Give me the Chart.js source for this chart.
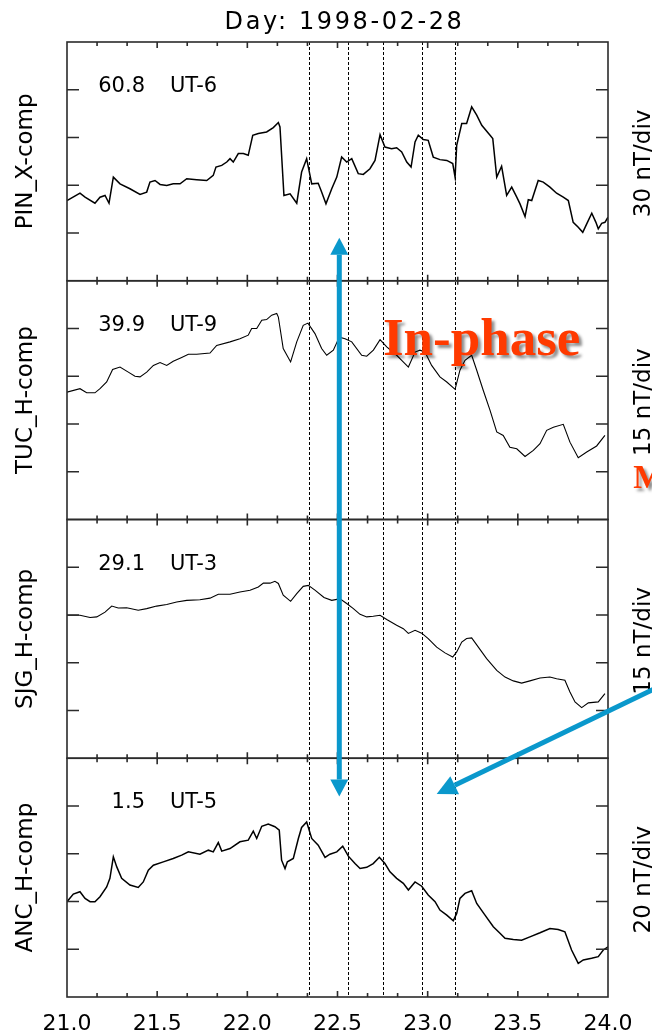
<!DOCTYPE html>
<html>
<head>
<meta charset="utf-8">
<title>Day: 1998-02-28</title>
<script src="https://cdn.jsdelivr.net/npm/chart.js@4.4.1/dist/chart.umd.min.js"></script>
<style>
  html, body { margin: 0; padding: 0; background: #fff; }
  #wrap { position: relative; width: 652px; height: 1035px; }
</style>
</head>
<body>
<div id="wrap"><canvas id="magChart" width="652" height="1035"></canvas></div>
<script>
// UT hours and field values (nT above panel floor) for each station
const hoursPin = [21.000,21.072,21.100,21.155,21.183,21.211,21.233,21.257,21.294,21.349,
  21.405,21.442,21.460,21.488,21.516,21.553,21.589,21.627,21.664,21.719,
  21.775,21.811,21.826,21.858,21.886,21.904,21.922,21.950,21.978,22.005,
  22.030,22.061,22.107,22.144,22.172,22.181,22.203,22.237,22.274,22.301,
  22.329,22.357,22.393,22.412,22.436,22.468,22.496,22.523,22.551,22.579,
  22.615,22.643,22.680,22.708,22.736,22.763,22.800,22.828,22.856,22.884,
  22.908,22.930,22.948,22.976,23.003,23.031,23.068,23.106,23.139,23.152,
  23.161,23.189,23.216,23.244,23.272,23.300,23.346,23.361,23.383,23.410,
  23.438,23.466,23.494,23.512,23.540,23.558,23.577,23.613,23.641,23.678,
  23.715,23.752,23.780,23.807,23.835,23.860,23.882,23.910,23.933,23.946,
  23.965,23.983,24.000];
const pinX = [50.4,55.0,52.5,48.7,52.5,53.6,48.7,65.1,60.9,57.8,
  54.2,55.7,62.0,63.0,60.5,59.9,60.9,60.9,64.1,63.5,
  63.0,66.2,71.4,72.5,74.6,76.7,74.6,79.9,79.9,78.8,
  91.4,92.5,93.5,96.2,99.4,96.6,53.6,54.6,48.7,68.3,
  76.7,60.9,61.3,55.7,48.3,57.8,65.1,77.7,74.6,76.7,
  67.3,66.8,70.4,75.6,91.8,84.0,83.0,83.6,80.9,74.6,
  71.4,87.2,91.4,88.7,88.2,77.7,76.1,75.6,73.6,65.1,
  85.1,98.8,98.8,109.2,104.0,97.7,91.4,89.3,65.1,71.9,
  53.6,58.8,52.5,48.3,40.3,50.9,50.4,63.0,62.0,58.8,
  55.0,52.5,50.4,36.7,33.6,30.4,35.7,42.4,36.7,32.6,
  36.1,36.7,39.9];

const hoursTuc = [21.000,21.072,21.109,21.155,21.183,21.220,21.253,21.294,21.340,21.377,
  21.405,21.442,21.479,21.516,21.553,21.589,21.636,21.673,21.719,21.793,
  21.830,21.904,21.959,22.005,22.024,22.052,22.080,22.107,22.135,22.163,
  22.172,22.199,22.240,22.274,22.310,22.336,22.375,22.412,22.440,22.477,
  22.510,22.542,22.579,22.634,22.662,22.699,22.736,22.773,22.828,22.856,
  22.893,22.930,22.957,22.985,23.022,23.068,23.106,23.152,23.179,23.207,
  23.244,23.272,23.308,23.346,23.383,23.419,23.456,23.494,23.540,23.586,
  23.623,23.660,23.697,23.752,23.789,23.835,23.882,23.937,23.983];
const tucH = [40.0,41.1,39.8,39.8,41.1,43.2,47.1,47.9,46.3,45.0,
  44.8,46.3,48.4,49.3,48.4,49.7,50.9,51.9,51.9,52.3,
  54.7,55.8,56.8,57.9,60.0,60.0,62.6,62.8,64.2,64.7,
  63.6,53.7,49.5,55.8,61.0,61.7,58.4,53.7,51.6,53.2,
  57.3,56.8,55.8,51.6,51.3,53.2,56.5,54.2,51.6,50.0,
  47.9,52.6,53.2,52.6,48.4,44.8,43.2,40.9,46.9,50.0,
  51.6,46.9,40.6,34.3,27.5,26.4,22.7,22.2,19.8,21.7,
  23.8,28.0,29.0,29.9,24.3,19.4,21.2,23.1,26.4];

const hoursSjg = [21.000,21.072,21.128,21.165,21.211,21.248,21.284,21.331,21.395,21.442,
  21.497,21.553,21.608,21.664,21.737,21.793,21.839,21.904,21.959,22.015,
  22.061,22.089,22.126,22.153,22.172,22.199,22.240,22.274,22.310,22.338,
  22.375,22.425,22.468,22.496,22.514,22.551,22.588,22.625,22.662,22.698,
  22.736,22.773,22.828,22.865,22.893,22.930,22.967,23.003,23.050,23.096,
  23.139,23.161,23.189,23.216,23.244,23.281,23.327,23.383,23.429,23.475,
  23.521,23.567,23.623,23.678,23.715,23.761,23.789,23.817,23.854,23.891,
  23.946,23.983];
const sjgH = [44.9,44.9,44.2,44.4,45.9,47.8,47.2,47.3,46.5,47.0,
  47.8,48.3,49.1,49.6,49.8,50.3,51.5,51.5,52.2,52.8,
  53.8,55.0,55.0,55.6,54.9,51.2,49.3,51.7,54.0,54.3,
  52.8,50.5,49.6,49.9,50.1,48.6,47.0,45.2,44.4,44.6,
  44.9,43.6,41.8,40.7,39.2,40.2,39.3,37.6,34.9,33.1,
  31.8,33.4,36.5,37.6,37.8,34.9,31.3,27.6,25.5,24.3,
  23.6,24.3,25.2,25.5,25.0,24.5,20.8,17.7,15.9,17.4,
  17.7,20.3];

const hoursAnc = [21.000,21.035,21.072,21.100,21.128,21.155,21.183,21.220,21.238,21.257,
  21.276,21.303,21.349,21.395,21.423,21.451,21.479,21.534,21.589,21.636,
  21.673,21.737,21.784,21.811,21.839,21.858,21.904,21.959,22.005,22.033,
  22.052,22.080,22.116,22.153,22.177,22.190,22.209,22.222,22.255,22.283,
  22.301,22.329,22.357,22.393,22.431,22.458,22.496,22.529,22.560,22.597,
  22.625,22.662,22.698,22.732,22.763,22.791,22.828,22.865,22.893,22.930,
  22.967,23.003,23.041,23.068,23.106,23.142,23.161,23.179,23.207,23.244,
  23.272,23.318,23.364,23.401,23.429,23.475,23.521,23.567,23.623,23.678,
  23.724,23.761,23.798,23.835,23.863,23.909,23.946,23.974,24.000];
const ancH = [39.9,43.1,44.1,41.3,39.9,39.9,42.0,46.1,49.7,58.7,
  54.5,49.7,46.9,45.9,48.2,53.1,55.2,56.6,58.0,59.4,
  60.8,59.8,61.5,60.8,64.7,61.1,62.2,65.0,65.7,69.5,
  66.4,71.5,72.4,71.3,69.9,57.3,53.8,56.6,58.0,66.4,
  71.0,73.3,66.4,63.6,58.5,59.8,60.8,63.2,59.0,55.9,
  53.8,54.3,55.9,58.5,55.9,52.4,49.7,47.6,44.8,48.2,
  46.4,42.7,39.9,36.4,34.3,31.9,35.0,41.3,43.4,44.5,
  39.2,34.3,29.4,26.7,24.6,24.1,23.8,25.2,26.9,28.7,
  28.3,27.3,19.7,14.1,15.5,16.2,16.9,19.7,21.0];

// panel order top to bottom
const panelIds = ['pin', 'tuc', 'sjg', 'anc'];
const panelLabels = ['PIN_X-comp', 'TUC_H-comp', 'SJG_H-comp', 'ANC_H-comp'];
const nTperDiv = [30, 15, 15, 20];
const baseLevels = ['60.8', '39.9', '29.1', '1.5'];
const utOffsets = ['UT-6', 'UT-9', 'UT-3', 'UT-5'];
const divisions = 5;

const xTickLabels = ['21.0', '21.5', '22.0', '22.5', '23.0', '23.5', '24.0'];
const minorStep = 1 / 6;   // 10 min
const markerHours = [22.34, 22.56, 22.75, 22.97, 23.15];

// annotation anchors in (hour, panel, nT)
const phaseArrow = [{hour: 22.51, axis: 'pin', value: 27}, {hour: 22.51, axis: 'anc', value: 84}];
const sideArrow = [{hour: 24.51, axis: 'sjg', value: 28.7}, {hour: 23.05, axis: 'anc', value: 85}];
const phaseNote = {text: 'In-phase', hour: 22.752, axis: 'tuc', value: 51.6};
const sideNote = {text: 'M', hour: 24.14, axis: 'tuc', value: 9.8};

const seriesList = [
  {id: 'pin', hours: hoursPin, values: pinX, width: 1.5},
  {id: 'tuc', hours: hoursTuc, values: tucH, width: 1.1},
  {id: 'sjg', hours: hoursSjg, values: sjgH, width: 1.1},
  {id: 'anc', hours: hoursAnc, values: ancH, width: 1.5}
];

const SANS = '"DejaVu Sans", sans-serif';
const SERIF = '"Liberation Serif", "Times New Roman", serif';
const BLUE = '#0a98cc';
const RED = '#ff3a00';

function vLabel(ctx, text, x, y) {
  ctx.save();
  ctx.translate(x, y);
  ctx.rotate(-Math.PI / 2);
  ctx.textAlign = 'center';
  ctx.textBaseline = 'alphabetic';
  ctx.fillText(text, 0, 0);
  ctx.restore();
}

function arrowHead(ctx, x0, y0, x1, y1, head, half) {
  const ang = Math.atan2(y1 - y0, x1 - x0);
  const bx = x1 - head * Math.cos(ang), by = y1 - head * Math.sin(ang);
  ctx.beginPath();
  ctx.moveTo(x0, y0);
  ctx.lineTo(bx, by);
  ctx.stroke();
  ctx.beginPath();
  ctx.moveTo(x1, y1);
  ctx.lineTo(bx + half * Math.sin(ang), by - half * Math.cos(ang));
  ctx.lineTo(bx - half * Math.sin(ang), by + half * Math.cos(ang));
  ctx.closePath();
  ctx.fill();
}

const framePlugin = {
  id: 'magFrame',
  beforeDatasetsDraw(chart) {
    const {ctx, chartArea: a, scales} = chart;
    ctx.save();
    ctx.strokeStyle = '#000';
    ctx.lineWidth = 1;
    ctx.setLineDash([3, 2]);
    markerHours.forEach(h => {
      const x = Math.round(scales.x.getPixelForValue(h)) + 0.5;
      ctx.beginPath();
      ctx.moveTo(x, a.top);
      ctx.lineTo(x, a.bottom);
      ctx.stroke();
    });
    ctx.restore();
  },
  afterDatasetsDraw(chart) {
    const {ctx, chartArea: a, scales} = chart;
    const sx = scales.x;
    const pt = p => ({x: sx.getPixelForValue(p.hour), y: scales[p.axis].getPixelForValue(p.value)});
    ctx.save();

    // panel frames and inward ticks
    ctx.strokeStyle = '#2b2b2b';
    ctx.lineWidth = 1.6;
    panelIds.forEach((id, i) => {
      const s = scales[id];
      ctx.strokeRect(a.left, s.top, a.right - a.left, s.bottom - s.top);
      ctx.beginPath();
      for (let k = 1; k < 18; k++) {
        const x = sx.getPixelForValue(21 + k * minorStep);
        const len = k % 3 === 0 ? 6 : 4;
        ctx.moveTo(x, s.top); ctx.lineTo(x, s.top + len);
        ctx.moveTo(x, s.bottom); ctx.lineTo(x, s.bottom - len);
      }
      for (let k = 1; k < divisions; k++) {
        const y = s.getPixelForValue(k * nTperDiv[i]);
        ctx.moveTo(a.left, y); ctx.lineTo(a.left + 12, y);
        ctx.moveTo(a.right, y); ctx.lineTo(a.right - 12, y);
      }
      ctx.stroke();

      // station labels, scale and base level
      const mid = (s.top + s.bottom) / 2;
      ctx.fillStyle = '#000';
      ctx.font = '23px ' + SANS;
      vLabel(ctx, panelLabels[i], a.left - 35, mid);
      vLabel(ctx, nTperDiv[i] + ' nT/div', a.right + 42, mid + 2);
      ctx.font = '21px ' + SANS;
      ctx.textBaseline = 'alphabetic';
      ctx.textAlign = 'right';
      ctx.fillText(baseLevels[i], a.left + 78, s.top + 50);
      ctx.textAlign = 'left';
      ctx.fillText(utOffsets[i], a.left + 103, s.top + 50);
    });

    // hour labels
    ctx.fillStyle = '#000';
    ctx.font = '22px ' + SANS;
    ctx.textAlign = 'center';
    xTickLabels.forEach(t => {
      ctx.fillText(t, sx.getPixelForValue(parseFloat(t)), a.bottom + 33);
    });

    // title
    ctx.font = '24px ' + SANS;
    ctx.letterSpacing = '2.6px';
    ctx.fillText('Day: 1998-02-28', (a.left + a.right) / 2 + 7, a.top - 13);
    ctx.letterSpacing = '0px';

    // arrows
    ctx.strokeStyle = BLUE;
    ctx.fillStyle = BLUE;
    ctx.lineWidth = 5;
    ctx.lineCap = 'butt';
    const top = pt(phaseArrow[0]), bot = pt(phaseArrow[1]);
    const midY = (top.y + bot.y) / 2;
    arrowHead(ctx, top.x, midY, top.x, top.y, 17, 9);
    arrowHead(ctx, bot.x, midY, bot.x, bot.y, 17, 9);
    const tail = pt(sideArrow[0]), tip = pt(sideArrow[1]);
    arrowHead(ctx, tail.x, tail.y, tip.x, tip.y, 20, 10);

    // notes
    ctx.fillStyle = RED;
    ctx.shadowColor = 'rgba(0,0,0,0.45)';
    ctx.shadowBlur = 3;
    ctx.shadowOffsetX = 3;
    ctx.shadowOffsetY = 3;
    ctx.textAlign = 'left';
    ctx.font = 'bold 53px ' + SERIF;
    const np = pt(phaseNote);
    ctx.fillText(phaseNote.text, np.x, np.y);
    ctx.font = 'bold 33px ' + SERIF;
    const sp = pt(sideNote);
    ctx.fillText(sideNote.text, sp.x, sp.y);
    ctx.restore();
  }
};

const yScales = {};
// left stacks are laid out last-first from the top, so list the bottom panel first
[...panelIds].reverse().forEach(id => {
  const i = panelIds.indexOf(id);
  yScales[id] = {
    type: 'linear', position: 'left', stack: 'mag', stackWeight: 1,
    min: 0, max: divisions * nTperDiv[i], display: false
  };
});

new Chart(document.getElementById('magChart'), {
  type: 'line',
  data: {
    datasets: seriesList.map(s => ({
      label: s.id,
      yAxisID: s.id,
      data: s.hours.map((h, k) => ({x: h, y: s.values[k]})),
      borderColor: '#000',
      borderWidth: s.width,
      pointRadius: 0,
      tension: 0,
      fill: false
    }))
  },
  options: {
    responsive: false,
    animation: false,
    devicePixelRatio: 1,
    layout: {padding: {left: 67, right: 44, top: 42, bottom: 38}},
    plugins: {legend: {display: false}, tooltip: {enabled: false}},
    scales: Object.assign({
      x: {type: 'linear', min: 21, max: 24, display: false}
    }, yScales)
  },
  plugins: [framePlugin]
});
</script>
</body>
</html>
